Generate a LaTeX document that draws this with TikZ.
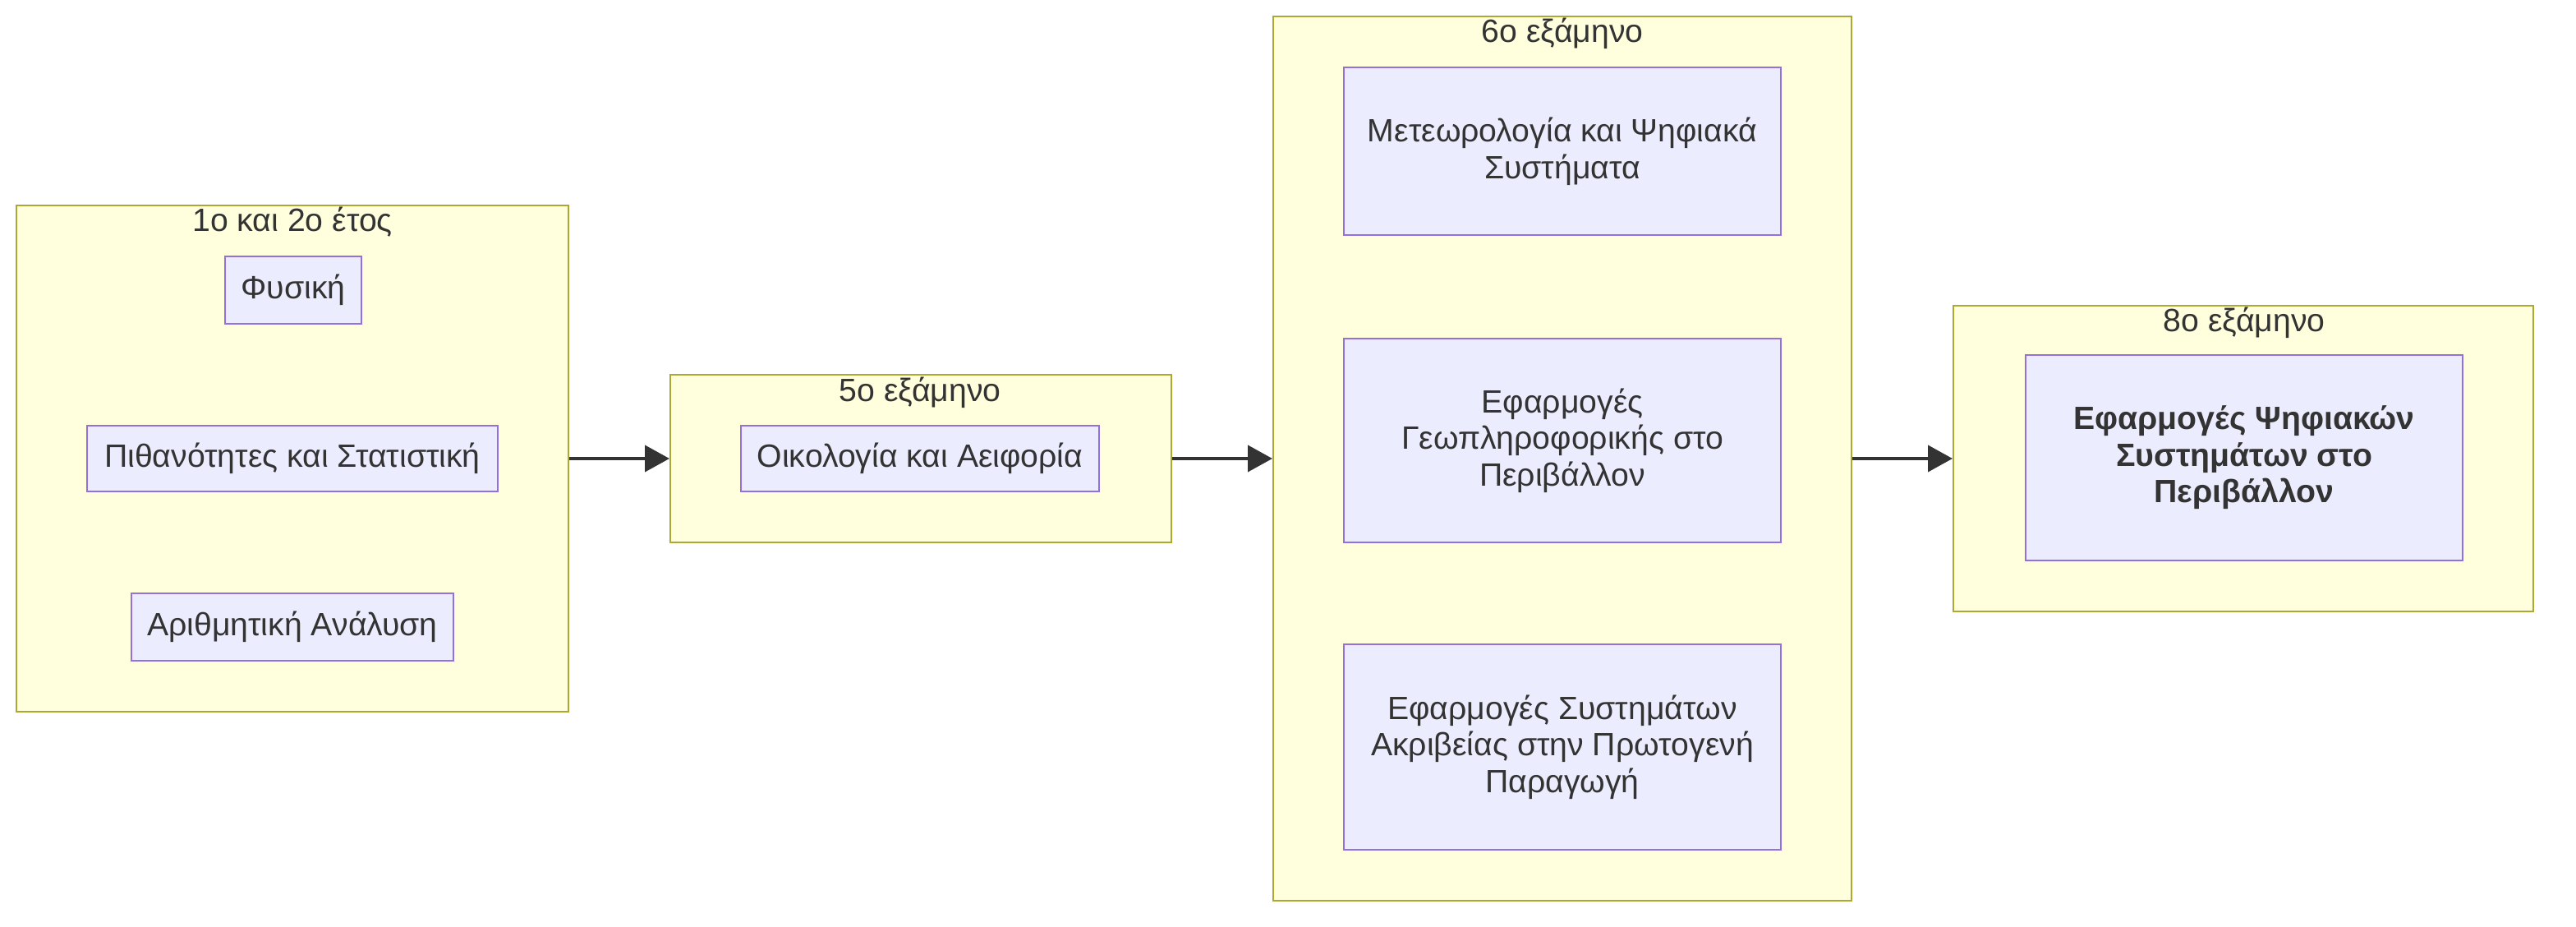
\documentclass[tikz,border=0pt]{standalone}
\usepackage{fontspec}
\setmainfont{Liberation Sans}
\usepackage{xcolor}
\usetikzlibrary{arrows.meta,positioning}

\definecolor{clfill}{HTML}{FFFFDE}
\definecolor{cldraw}{HTML}{AAAA33}
\definecolor{ndfill}{HTML}{ECECFF}
\definecolor{nddraw}{HTML}{9370DB}
\definecolor{txt}{HTML}{333333}

\begin{document}
\begin{tikzpicture}[x=1pt,y=-1pt,
  cluster/.style={draw=cldraw, fill=clfill, line width=1pt, inner sep=0pt},
  course/.style={draw=nddraw, fill=ndfill, line width=1pt, text=txt, align=center, inner sep=0pt, font=\fontsize{19.6}{22.3}\selectfont},
  title/.style={text=txt, anchor=base, inner sep=0pt, font=\fontsize{19.6}{22}\selectfont},
  flow/.style={-{Triangle[length=15pt,width=16pt]}, line width=2pt, draw=txt}]

\useasboundingbox (0,0) rectangle (1568,564);

% 1st and 2nd year
\node[cluster, minimum width=336, minimum height=308] (etos12) at (178,279) {};
\node[title] (t12) at (178,141) {1ο και 2ο έτος};
\node[course, minimum width=83, minimum height=41] (fysiki) at (178.5,176.5) {Φυσική};
\node[course, minimum width=250, minimum height=40] (pithanotites) at (178,279) {Πιθανότητες και Στατιστική};
\node[course, minimum width=196, minimum height=41] (arithmitiki) at (178,381.5) {Αριθμητική Ανάλυση};

% 5th semester
\node[cluster, minimum width=305, minimum height=102] (exam5) at (560.5,279) {};
\node[title] (t5) at (560,244) {5ο εξάμηνο};
\node[course, minimum width=218, minimum height=40] (oikologia) at (560,279) {Οικολογία και Αειφορία};

% 6th semester
\node[cluster, minimum width=352, minimum height=538] (exam6) at (951,279) {};
\node[title] (t6) at (951,26) {6ο εξάμηνο};
\node[course, minimum width=266, minimum height=102] (meteo) at (951,92) {Μετεωρολογία και Ψηφιακά\\Συστήματα};
\node[course, minimum width=266, minimum height=124] (geopliro) at (951,268) {Εφαρμογές\\Γεωπληροφορικής στο\\Περιβάλλον};
\node[course, minimum width=266, minimum height=125] (akriveia) at (951,454.5) {Εφαρμογές Συστημάτων\\Ακριβείας στην Πρωτογενή\\Παραγωγή};

% 8th semester
\node[cluster, minimum width=353, minimum height=186] (exam8) at (1365.5,279) {};
\node[title] (t8) at (1366,202) {8ο εξάμηνο};
\node[course, minimum width=266, minimum height=125, font=\fontsize{19.6}{22.3}\selectfont\bfseries] (psifiaka) at (1366,278.5) {Εφαρμογές Ψηφιακών\\Συστημάτων στο\\Περιβάλλον};

% flow between stages
\draw[flow] (etos12.east) -- (exam5.west);
\draw[flow] (exam5.east) -- (exam6.west);
\draw[flow] (exam6.east) -- (exam8.west);

\end{tikzpicture}
\end{document}
